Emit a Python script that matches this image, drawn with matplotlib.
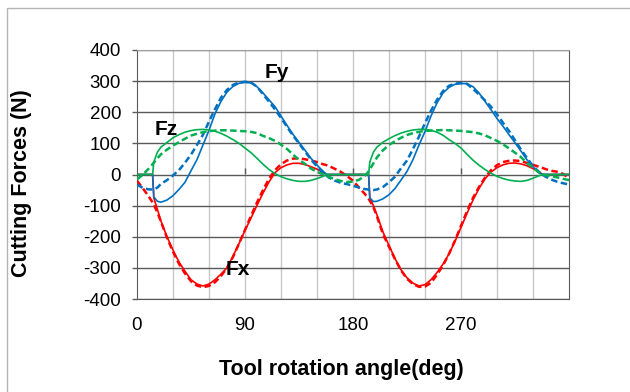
import matplotlib
matplotlib.use("Agg")
import matplotlib.pyplot as plt
from matplotlib.patches import Rectangle

plt.rcParams['font.family'] = ['Liberation Sans', 'DejaVu Sans']
plt.rcParams['axes.unicode_minus'] = False

# tool rotation angle (deg)
angle = [0, 5, 10, 13, 14, 17, 20, 25, 30, 35, 40, 45, 50, 55, 60, 65, 70, 75, 80, 85,
         90, 95, 100, 105, 110, 115, 120, 125, 130, 135, 140, 145, 150, 155, 158, 160,
         165, 170, 175, 180, 185, 190, 193, 194, 197, 200, 205, 210, 215, 220, 225, 230,
         235, 240, 245, 250, 255, 260, 265, 270, 275, 280, 285, 290, 295, 300, 305, 310,
         315, 320, 325, 330, 335, 338, 340, 345, 350, 355, 360]

# Fx (solid = first set, dashed = second set)
fx_solid = [0, 0, 0, 0, -75, -112, -150, -200, -243, -281, -311, -338, -352, -358, -352, -338,
            -320, -300, -262, -222, -180, -140, -99, -60, -24, 6, 22, 31, 36, 36, 32, 25,
            17, 7, 0, 0, 0, 0, 0, 0, 0, 0, 0, -75, -100, -130, -185, -228, -270, -306, -332,
            -349, -358, -354, -338, -315, -288, -255, -215, -170, -125, -82, -45, -14, 8, 22,
            31, 36, 37, 34, 28, 19, 9, 0, 0, 0, 0, 0, 0]
fx_dash = [-20, -45, -72, -90, -97, -122, -152, -203, -248, -287, -318, -343, -357, -362, -358,
           -346, -326, -300, -265, -222, -178, -133, -90, -50, -14, 14, 33, 45, 51, 52, 49, 45,
           40, 33, 30, 27, 18, 8, -5, -20, -42, -63, -78, -84, -105, -135, -192, -232, -272,
           -308, -335, -352, -361, -360, -348, -322, -292, -255, -212, -165, -118, -75, -40,
           -10, 14, 30, 40, 44, 45, 43, 37, 31, 25, 21, 18, 12, 9, 2, -12]

# Fy
fy_solid = [0, 0, 0, 0, -72, -86, -89, -82, -68, -48, -25, 12, 48, 95, 142, 195, 235, 265, 283,
            293, 296, 294, 282, 262, 240, 218, 188, 158, 129, 103, 78, 52, 30, 11, 0, 0, 0, 0,
            0, 0, 0, 0, 0, -75, -87, -86, -78, -65, -45, -18, 10, 48, 95, 138, 188, 230, 262,
            280, 290, 292, 292, 282, 262, 235, 208, 180, 155, 128, 102, 75, 47, 25, 6, 0, 0,
            0, 0, 0, 0]
fy_dash = [-32, -44, -48, -48, -48, -42, -30, -18, -3, 14, 38, 64, 95, 128, 170, 210, 247, 272,
           288, 296, 298, 296, 282, 258, 234, 209, 182, 153, 125, 100, 74, 48, 26, 6, -3, -10,
           -20, -27, -31, -36, -42, -47, -48, -49, -50, -48, -40, -25, -7, 20, 45, 82, 122, 165,
           205, 240, 268, 285, 292, 294, 291, 275, 257, 238, 218, 193, 166, 140, 110, 80, 53,
           27, 8, 0, -6, -16, -23, -28, -32]

# Fz
fz_solid = [0, 0, 0, 0, 40, 72, 88, 103, 118, 128, 136, 141, 144, 145, 143, 139, 132, 123, 112,
            100, 85, 70, 52, 33, 16, 3, -7, -14, -19, -22, -22, -19, -13, -6, 0, 0, 0, 0, 0, 0,
            0, 0, 0, 40, 72, 88, 104, 115, 125, 133, 139, 143, 145, 145, 142, 136, 126, 112,
            100, 85, 65, 46, 30, 16, 4, -6, -13, -18, -21, -22, -19, -12, -4, 0, 0, 0, 0, 0, 0]
fz_dash = [-16, 0, 20, 33, 38, 52, 65, 80, 93, 104, 115, 125, 131, 136, 139, 141, 142, 142, 141,
           140, 139, 137, 133, 124, 117, 108, 96, 82, 64, 47, 34, 19, 8, 1, -4, -8, -15, -21,
           -24, -23, -17, -4, 10, 16, 36, 55, 78, 95, 107, 118, 127, 133, 137, 140, 141, 142,
           143, 142, 141, 140, 138, 136, 132, 126, 117, 108, 97, 84, 70, 56, 36, 22, 6, 1, -2,
           -5, -9, -14, -18]

x_ticks = [0, 90, 180, 270]
y_ticks = list(range(-400, 401, 100))

RED, BLUE, GREEN = '#ff0000', '#0070c0', '#00b050'

fig = plt.figure(figsize=(6.3, 3.92), dpi=100)
ax = fig.add_axes([137 / 630, 1 - 299 / 392, (569 - 137) / 630, (299 - 50) / 392])

# grid
for v in range(30, 360, 30):
    ax.axvline(v, color='#c8c8c8', lw=1.0, zorder=0)
for h in y_ticks:
    ax.axhline(h, color='#5a5a5a', lw=1.0, zorder=0.5)

dash = (0, (2.6, 1.4))
ax.plot(angle, fx_solid, color=RED, lw=1.2, zorder=3)
ax.plot(angle, fx_dash, color=RED, lw=1.8, ls=dash, zorder=3)
ax.plot(angle, fy_solid, color=BLUE, lw=1.2, zorder=3)
ax.plot(angle, fy_dash, color=BLUE, lw=1.8, ls=dash, zorder=3)
ax.plot(angle, fz_solid, color=GREEN, lw=1.2, zorder=3)
ax.plot(angle, fz_dash, color=GREEN, lw=1.8, ls=dash, zorder=3)

ax.set_xlim(0, 360)
ax.set_ylim(-400, 400)
ax.set_xticks(x_ticks)
ax.set_yticks(y_ticks)
ax.tick_params(axis='x', length=0, pad=13, labelsize=13.5)
ax.tick_params(axis='y', length=3.5, width=1, color='#5a5a5a', pad=8, labelsize=13.5)

for side in ['left', 'bottom', 'right']:
    ax.spines[side].set_color('#5a5a5a')
ax.spines['top'].set_color('#a0a0a0')

# horizontal axis line crossing at 0 with small tick marks
sec = ax.secondary_xaxis(0.5)
sec.set_xticks(x_ticks[1:])
sec.tick_params(length=4, width=1, color='#5a5a5a', labelbottom=False, labeltop=False)
sec.spines['bottom'].set_visible(False)
sec.spines['top'].set_visible(False)

ax.text(106, 329, 'Fy', fontsize=15, fontweight='bold', va='center', ha='left', zorder=5)
ax.text(15, 145, 'Fz', fontsize=15, fontweight='bold', va='center', ha='left', zorder=5)
ax.text(74, -306, 'Fx', fontsize=15, fontweight='bold', va='center', ha='left', zorder=5)

fig.text(22 / 630, 1 - 183 / 392, 'Cutting Forces (N)', rotation=90, fontsize=15.5,
         fontweight='bold', ha='center', va='center')
fig.text(341 / 630, 1 - 370 / 392, 'Tool rotation angle(deg)', fontsize=15.5,
         fontweight='bold', ha='center', va='center')

fig.patches.append(Rectangle((7 / 630, -0.1), 1.2, 1 - 8 / 392 + 0.1, transform=fig.transFigure,
                             fill=False, edgecolor='#b4b4b4', lw=1.0))

fig.savefig('out.png', dpi=100, facecolor='white')
